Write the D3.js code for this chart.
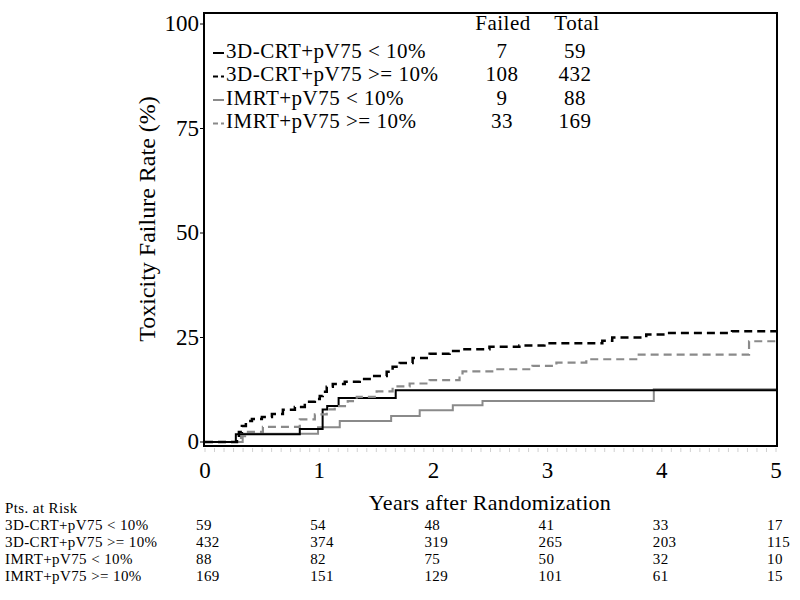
<!DOCTYPE html>
<html>
<head>
<meta charset="utf-8">
<script src="https://cdn.jsdelivr.net/npm/d3@7/dist/d3.min.js"></script>
<style>
  html, body { margin: 0; padding: 0; background: #fff; }
  svg { display: block; font-family: "Liberation Serif", "Times New Roman", serif; }
</style>
</head>
<body>
<svg id="chart" width="800" height="600"></svg>
<script>
// ---- Data ----
const seriesNames = ["3D-CRT+pV75 < 10%", "3D-CRT+pV75 >= 10%", "IMRT+pV75 < 10%", "IMRT+pV75 >= 10%"];
const failed = [7, 108, 9, 33];
const total = [59, 432, 88, 169];

const crtLowT = [0, 0.27, 0.83, 1.03, 1.07, 1.17, 1.67];
const crtLowV = [0, 1.85, 3.1, 7.8, 8.6, 10.5, 12.4];

const crtHighT = [0, 0.28, 0.297, 0.323, 0.358, 0.411, 0.498, 0.586, 0.682, 0.787, 0.874, 0.962, 1.005, 1.031, 1.066, 1.119, 1.224, 1.355, 1.469, 1.591, 1.643, 1.705, 1.818, 1.967, 2.142, 2.255, 2.491, 2.753, 2.972, 3.479, 3.566, 3.864, 4.038, 4.615];
const crtHighV = [0, 1.2, 2.4, 3.8, 5.0, 5.5, 6.0, 6.7, 7.7, 8.4, 9.6, 10.3, 11.0, 12.0, 13.2, 13.9, 14.4, 15.1, 15.8, 16.8, 18.0, 18.9, 20.1, 21.1, 21.8, 22.2, 22.8, 23.1, 23.6, 24.2, 25.0, 25.7, 26.1, 26.5];

const imrtLowT = [0, 0.33, 0.99, 1.18, 1.63, 1.88, 2.17, 2.43, 3.93];
const imrtLowV = [0, 2.0, 3.5, 5.0, 6.2, 7.6, 8.8, 9.8, 12.6];

const imrtHighT = [0, 0.315, 0.376, 0.507, 0.83, 0.962, 1.066, 1.136, 1.25, 1.329, 1.503, 1.643, 1.792, 1.967, 2.229, 2.255, 2.535, 2.867, 3.077, 3.339, 3.776, 4.764];
const imrtHighV = [0, 1.4, 2.4, 3.6, 5.4, 6.6, 7.8, 8.6, 9.8, 10.8, 12.1, 13.3, 14.0, 14.8, 15.7, 16.9, 17.4, 18.2, 19.0, 19.8, 20.9, 24.1];

const xTicks = [0, 1, 2, 3, 4, 5];
const yTicks = [0, 25, 50, 75, 100];

const riskTimes = [0, 1, 2, 3, 4, 5];
const riskCrtLow = [59, 54, 48, 41, 33, 17];
const riskCrtHigh = [432, 374, 319, 265, 203, 115];
const riskImrtLow = [88, 82, 75, 50, 32, 10];
const riskImrtHigh = [169, 151, 129, 101, 61, 15];

// ---- Styles ----
const styles = [
  { color: "#000", width: 2, dash: null, legDash: null },
  { color: "#000", width: 2.5, dash: "8,5", legDash: "5,3" },
  { color: "#8a8a8a", width: 2, dash: null, legDash: null },
  { color: "#8a8a8a", width: 2.2, dash: "8,5", legDash: "5,3" }
];

const svg = d3.select("#chart");
const x = d3.scaleLinear().domain([0, 5]).range([205, 776]);
const y = d3.scaleLinear().domain([0, 100]).range([442, 24]);

const frame = { left: 204, right: 777, top: 13, bottom: 446 };

// minor ticks (monthly), faint
const minor = d3.range(0, 61).map(m => m / 12);
svg.append("g").selectAll("line").data(minor).join("line")
  .attr("x1", d => x(d)).attr("x2", d => x(d))
  .attr("y1", frame.bottom + 2).attr("y2", frame.bottom + 6)
  .attr("stroke", "#d0d0d0").attr("stroke-width", 1);

// curves
const series = [
  [crtLowT, crtLowV],
  [crtHighT, crtHighV],
  [imrtLowT, imrtLowV],
  [imrtHighT, imrtHighV]
];
const line = d3.line().x(d => x(d[0])).y(d => y(d[1])).curve(d3.curveStepAfter);
const drawOrder = [2, 0, 3, 1];
drawOrder.forEach(i => {
  const [ts, vs] = series[i];
  const pts = ts.map((t, k) => [t, vs[k]]);
  pts.push([5, vs[vs.length - 1]]);
  const p = svg.append("path").datum(pts)
    .attr("d", line)
    .attr("fill", "none")
    .attr("stroke", styles[i].color)
    .attr("stroke-width", styles[i].width);
  if (styles[i].dash) p.attr("stroke-dasharray", styles[i].dash);
});

// frame
svg.append("rect")
  .attr("x", frame.left).attr("y", frame.top)
  .attr("width", frame.right - frame.left).attr("height", frame.bottom - frame.top)
  .attr("fill", "none").attr("stroke", "#000").attr("stroke-width", 2);

// y axis ticks & labels
const yg = svg.append("g");
yg.selectAll("line").data(yTicks).join("line")
  .attr("x1", frame.left - 4).attr("x2", frame.left)
  .attr("y1", d => y(d)).attr("y2", d => y(d))
  .attr("stroke", "#000").attr("stroke-width", 1);
yg.selectAll("text").data(yTicks).join("text")
  .attr("x", frame.left - 5).attr("y", d => y(d) + 2)
  .attr("text-anchor", "end").attr("dominant-baseline", "middle")
  .attr("font-size", 23).text(d => d);

// x tick labels
svg.append("g").selectAll("text").data(xTicks).join("text")
  .attr("x", d => x(d)).attr("y", 473)
  .attr("text-anchor", "middle").attr("dominant-baseline", "middle")
  .attr("font-size", 23).text(d => d);

// axis titles
svg.append("text")
  .attr("transform", "translate(149,219) rotate(-90)")
  .attr("text-anchor", "middle").attr("dominant-baseline", "middle")
  .attr("font-size", 24).text("Toxicity Failure Rate (%)");
svg.append("text")
  .attr("x", 490).attr("y", 505)
  .attr("text-anchor", "middle").attr("dominant-baseline", "middle")
  .attr("font-size", 22).attr("letter-spacing", 0.3).text("Years after Randomization");

// legend
const legRows = [53, 76.5, 100, 123.5];
const legFont = 21;
const lg = svg.append("g").attr("letter-spacing", 0.5);
lg.append("text").attr("x", 503).attr("y", 25).attr("text-anchor", "middle")
  .attr("dominant-baseline", "middle").attr("font-size", legFont).text("Failed");
lg.append("text").attr("x", 577).attr("y", 25).attr("text-anchor", "middle")
  .attr("dominant-baseline", "middle").attr("font-size", legFont).text("Total");
seriesNames.forEach((name, i) => {
  const ly = legRows[i];
  const l = lg.append("line").attr("x1", 213).attr("x2", 224).attr("y1", ly).attr("y2", ly)
    .attr("stroke", styles[i].color).attr("stroke-width", 2);
  if (styles[i].legDash) l.attr("stroke-dasharray", styles[i].legDash);
  lg.append("text").attr("x", 226).attr("y", ly).attr("dominant-baseline", "middle")
    .attr("font-size", legFont).text(name);
  lg.append("text").attr("x", 502).attr("y", ly).attr("text-anchor", "middle")
    .attr("dominant-baseline", "middle").attr("font-size", legFont).text(failed[i]);
  lg.append("text").attr("x", 575).attr("y", ly).attr("text-anchor", "middle")
    .attr("dominant-baseline", "middle").attr("font-size", legFont).text(total[i]);
});

// risk table
const risk = [riskCrtLow, riskCrtHigh, riskImrtLow, riskImrtHigh];
const riskRows = [527, 544, 561, 578];
const rg = svg.append("g").attr("font-size", 15).attr("letter-spacing", 0.4);
rg.append("text").attr("x", 5).attr("y", 510).attr("dominant-baseline", "middle").text("Pts. at Risk");
seriesNames.forEach((name, i) => {
  rg.append("text").attr("x", 5).attr("y", riskRows[i]).attr("dominant-baseline", "middle").text(name);
  riskTimes.forEach((t, k) => {
    rg.append("text").attr("x", x(t) - 9).attr("y", riskRows[i])
      .attr("dominant-baseline", "middle").text(risk[i][k]);
  });
});
</script>
</body>
</html>
